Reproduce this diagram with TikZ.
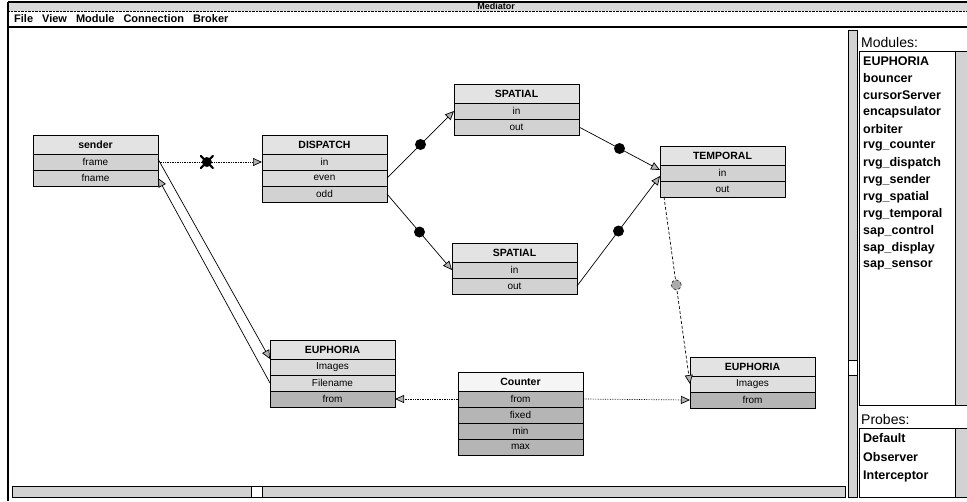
\documentclass[tikz,border=0pt]{standalone}
\usepackage{fontspec}
\setmainfont{Liberation Sans}
\usetikzlibrary{positioning, arrows.meta}

\begin{document}
\begin{tikzpicture}[x=1pt, y=-1pt,
    modhead/.style={draw, line width=0.8pt, fill=gray!22, minimum width=125pt, minimum height=19pt, inner sep=0pt, outer sep=0pt, anchor=north west, font=\bfseries\fontsize{10.5}{12}\selectfont},
    port/.style={draw, line width=0.8pt, fill=gray!35, minimum width=125pt, minimum height=16pt, inner sep=0pt, outer sep=0pt, font=\fontsize{10}{11}\selectfont},
    portout/.style={port, fill=gray!58},
    link/.style={line width=0.7pt, -{Triangle[length=9pt, width=8pt, fill=gray!60]}},
    dotmark/.style={circle, fill=black, minimum size=11pt, inner sep=0pt},
    greymark/.style={circle, fill=gray!65, draw=gray!40!black, minimum size=10pt, inner sep=0pt},
    xstroke/.style={line width=2.2pt, line cap=round},
    listitem/.style={anchor=west, inner sep=0pt, font=\bfseries\fontsize{12.5}{14}\selectfont},
    panelhead/.style={anchor=west, inner sep=0pt, font=\fontsize{14}{16}\selectfont},
    bar/.style={fill=gray!35, draw=black, line width=0.6pt}
]
    \useasboundingbox (0,0) rectangle (967,501);

    % window frame, title and menu
    \fill[gray!30] (8,2) rectangle (967,11);
    \draw[line width=1.5pt] (8,2) -- (967,2);
    \draw[densely dotted] (8,11) -- (967,11);
    \node[font=\bfseries\fontsize{9}{10}\selectfont, inner sep=0pt] (title) at (496,6.5) {Mediator};
    \node[anchor=west, inner sep=0pt, font=\bfseries\fontsize{11}{13}\selectfont] (menu) at (14,18.5)
        {File\hspace{9pt}View\hspace{9pt}Module\hspace{9pt}Connection\hspace{9pt}Broker};
    \draw[line width=1.5pt] (8,27) -- (967,27);
    \draw[line width=1.5pt] (8,2) -- (8,501);

    % scroll bars of the canvas
    \draw[bar] (12,486) rectangle (845,497);
    \draw[fill=white] (251,486) rectangle (262,497);
    \draw[bar] (848,30) rectangle (857,497);
    \draw[fill=white] (848,360) rectangle (857,375);

    % module panel
    \node[panelhead] (modhd) at (861,42) {Modules:};
    \draw (859,51) rectangle (955,405);
    \draw[bar] (955,51) rectangle (967,405);
    \foreach \m [count=\i] in {EUPHORIA, bouncer, cursorServer, encapsulator, orbiter,
        rvg\_counter, rvg\_dispatch, rvg\_sender, rvg\_spatial, rvg\_temporal,
        sap\_control, sap\_display, sap\_sensor}
        \node[listitem] (mod\i) at (863,44+17*\i) {\m};
    \node[panelhead] (probhd) at (861,419) {Probes:};
    \draw (859,428) rectangle (955,497);
    \draw[bar] (955,428) rectangle (967,497);
    \foreach \p [count=\i] in {Default, Observer, Interceptor}
        \node[listitem] (probe\i) at (863,419+19*\i) {\p};

    % modules
    \node[modhead] (snd) at (33,135) {sender};
    \node[port, below=0pt of snd] (sndframe) {frame};
    \node[port, below=0pt of sndframe] (sndfname) {fname};

    \node[modhead] (dsp) at (262,135) {DISPATCH};
    \node[port, fill=gray!28, below=0pt of dsp] (dspin) {in};
    \node[port, fill=gray!28, below=0pt of dspin] (dspeven) {even};
    \node[port, below=0pt of dspeven] (dspodd) {odd};

    \node[modhead] (spt) at (454,84) {SPATIAL};
    \node[port, below=0pt of spt] (sptin) {in};
    \node[port, below=0pt of sptin] (sptout) {out};

    \node[modhead] (tmp) at (660,146) {TEMPORAL};
    \node[port, below=0pt of tmp] (tmpin) {in};
    \node[port, below=0pt of tmpin] (tmpout) {out};

    \node[modhead] (spb) at (452,243) {SPATIAL};
    \node[port, below=0pt of spb] (spbin) {in};
    \node[port, below=0pt of spbin] (spbout) {out};

    \node[modhead] (eul) at (270,340) {EUPHORIA};
    \node[port, fill=gray!28, below=0pt of eul] (eulimg) {Images};
    \node[port, fill=gray!28, below=0pt of eulimg] (eulfile) {Filename};
    \node[portout, below=0pt of eulfile] (eulfrom) {from};

    \node[modhead, fill=gray!8] (cnt) at (458,372) {Counter};
    \node[portout, below=0pt of cnt] (cntfrom) {from};
    \node[portout, below=0pt of cntfrom] (cntfixed) {fixed};
    \node[portout, below=0pt of cntfixed] (cntmin) {min};
    \node[portout, below=0pt of cntmin] (cntmax) {max};

    \node[modhead] (eur) at (690,357) {EUPHORIA};
    \node[port, fill=gray!25, below=0pt of eur] (eurimg) {Images};
    \node[portout, below=0pt of eurimg] (eurfrom) {from};

    % connections
    \draw[link, densely dotted] (sndframe.east) -- node[dotmark, minimum size=10pt, pos=0.47] (m1) {} (dspin.west);
    \draw[xstroke] (m1.center) ++(-6,-6) -- ++(12,12) (m1.center) ++(-6,6) -- ++(12,-12);
    \draw[link] (dspeven.east) -- node[dotmark] (m2) {} (sptin.west);
    \draw[link] (dspodd.east) -- node[dotmark] (m3) {} (spbin.west);
    \draw[link] (sptout.east) -- node[dotmark] (m4) {} ([yshift=3pt]tmpin.west);
    \draw[link] (spbout.east) -- node[dotmark] (m5) {} ([yshift=-3pt]tmpin.west);
    \draw[link, densely dashed] ([xshift=4pt]tmpout.south west) -- node[greymark, pos=0.47] (m6) {} (eurimg.west);
    \draw[link, densely dotted] (cntfrom.west) -- (eulfrom.east);
    \draw[link, densely dotted] (cntfrom.east) -- (eurfrom.west);
    \draw[link] ([yshift=3pt]sndframe.east) -- (eul.south west);
    \draw[link] (eulfile.west) -- (sndfname.east);
\end{tikzpicture}
\end{document}
